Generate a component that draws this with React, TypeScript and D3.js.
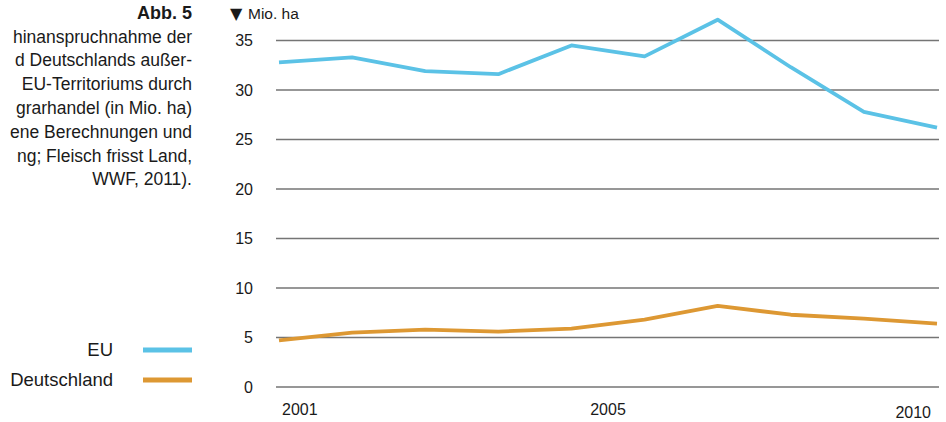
import { useEffect, useRef } from 'react';
import * as d3 from 'd3';

const years = [2001, 2002, 2003, 2004, 2005, 2006, 2007, 2008, 2009, 2010];
const euValues = [32.8, 33.3, 31.9, 31.6, 34.5, 33.4, 37.1, 32.3, 27.8, 26.2];
const deValues = [4.7, 5.5, 5.8, 5.6, 5.9, 6.8, 8.2, 7.3, 6.9, 6.4];
const yTicks = [0, 5, 10, 15, 20, 25, 30, 35];
const xLabels = [
  { year: 2001, pos: 2001, anchor: 'start' },
  { year: 2005, pos: 2005.5, anchor: 'middle' },
  { year: 2010, pos: 2010, anchor: 'end' },
];
// caption as far as it is visible in the original (it runs off the left edge there)
const captionTitle = 'Abb. 5';
const captionLines = [
  'hinanspruchnahme der',
  'd Deutschlands außer-',
  'EU-Territoriums durch',
  'grarhandel (in Mio. ha)',
  'ene Berechnungen und',
  'ng; Fleisch frisst Land,',
  'WWF, 2011).',
];
const legendItems = [
  { label: 'EU', color: '#5bc2e6' },
  { label: 'Deutschland', color: '#dd9833' },
];

const FONT = '"Liberation Sans", Arial, Helvetica, sans-serif';

export default function App() {
  const svgRef = useRef<SVGSVGElement>(null);
  const width = 946;
  const height = 422;

  useEffect(() => {
    if (!svgRef.current) return;
    const svg = d3.select(svgRef.current);
    svg.selectAll('*').remove();

    const x = d3.scaleLinear().domain([2001, 2010]).range([279, 937]);
    const y = d3.scaleLinear().domain([0, 35]).range([387, 40.5]);

    // gridlines
    svg.append('g')
      .selectAll('line')
      .data(yTicks)
      .enter()
      .append('line')
      .attr('x1', 276)
      .attr('x2', 939)
      .attr('y1', d => y(d))
      .attr('y2', d => y(d))
      .attr('stroke', '#757575')
      .attr('stroke-width', 1.3);

    // y labels
    svg.append('g')
      .selectAll('text')
      .data(yTicks)
      .enter()
      .append('text')
      .attr('x', 253)
      .attr('y', d => y(d))
      .attr('dy', '0.35em')
      .attr('text-anchor', 'end')
      .attr('font-family', FONT)
      .attr('font-size', 16)
      .attr('fill', '#1a1a1a')
      .text(d => d);

    // x labels
    svg.append('g')
      .selectAll('text')
      .data(xLabels)
      .enter()
      .append('text')
      .attr('x', d => x(d.pos) + (d.anchor === 'start' ? 3 : d.anchor === 'end' ? -6 : 0))
      .attr('y', d => (d.anchor === 'end' ? 418 : 415))
      .attr('text-anchor', d => d.anchor)
      .attr('font-family', FONT)
      .attr('font-size', 16)
      .attr('fill', '#1a1a1a')
      .text(d => d.year);

    // unit label
    const unit = svg.append('text')
      .attr('y', 18.5)
      .attr('font-family', FONT)
      .attr('font-size', 15.5)
      .attr('fill', '#1a1a1a');
    unit.append('tspan')
      .attr('x', 230)
      .attr('font-family', '"DejaVu Sans", sans-serif')
      .attr('font-size', 16)
      .text('▼');
    unit.append('tspan')
      .attr('x', 248)
      .text('Mio. ha');

    // lines
    const line = d3.line<number>()
      .x((_, i) => x(years[i]))
      .y(d => y(d));

    svg.append('path')
      .datum(deValues)
      .attr('d', line)
      .attr('fill', 'none')
      .attr('stroke', legendItems[1].color)
      .attr('stroke-width', 3.8)
      .attr('stroke-linejoin', 'round');

    svg.append('path')
      .datum(euValues)
      .attr('d', line)
      .attr('fill', 'none')
      .attr('stroke', legendItems[0].color)
      .attr('stroke-width', 3.8)
      .attr('stroke-linejoin', 'round');

    // caption
    svg.append('text')
      .attr('x', 192)
      .attr('y', 19)
      .attr('text-anchor', 'end')
      .attr('font-family', FONT)
      .attr('font-weight', 'bold')
      .attr('font-size', 18)
      .attr('fill', '#1a1a1a')
      .text(captionTitle);

    svg.append('g')
      .selectAll('text')
      .data(captionLines)
      .enter()
      .append('text')
      .attr('x', 192)
      .attr('y', (_, i) => 42.5 + i * 23.8)
      .attr('text-anchor', 'end')
      .attr('font-family', FONT)
      .attr('font-size', 17.5)
      .attr('fill', '#1a1a1a')
      .text(d => d);

    // legend
    const leg = svg.append('g')
      .selectAll('g')
      .data(legendItems)
      .enter()
      .append('g')
      .attr('transform', (_, i) => `translate(0,${350 + i * 30})`);
    leg.append('text')
      .attr('x', 113)
      .attr('dy', '0.35em')
      .attr('text-anchor', 'end')
      .attr('font-family', FONT)
      .attr('font-size', 18.5)
      .attr('fill', '#1a1a1a')
      .text(d => d.label);
    leg.append('line')
      .attr('x1', 143)
      .attr('x2', 192)
      .attr('stroke', d => d.color)
      .attr('stroke-width', 5);
  }, []);

  return (
    <svg
      ref={svgRef}
      width={width}
      height={height}
      style={{ position: 'absolute', left: 0, top: 0, background: '#fff' }}
    />
  );
}
